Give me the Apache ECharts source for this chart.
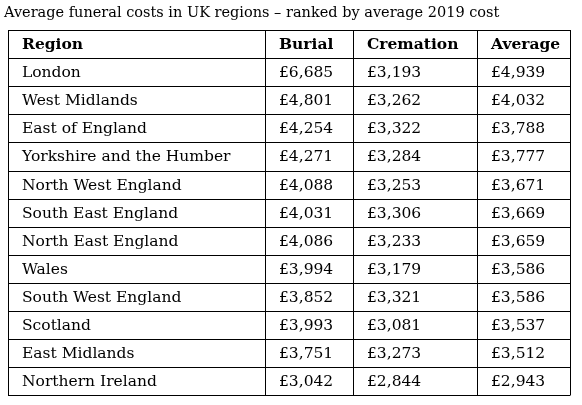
<!DOCTYPE html>
<html>
<head>
<meta charset="utf-8">
<script src="https://cdn.jsdelivr.net/npm/echarts@6/dist/echarts.min.js"></script>
<style>html,body{margin:0;padding:0;background:#fff}#main{width:582px;height:405px}</style>
</head>
<body>
<div id="main"></div>
<script>
var title = 'Average funeral costs in UK regions \u2013 ranked by average 2019 cost';
var headers = ['Region', 'Burial', 'Cremation', 'Average'];
var regions = ['London', 'West Midlands', 'East of England', 'Yorkshire and the Humber', 'North West England',
	'South East England', 'North East England', 'Wales', 'South West England', 'Scotland', 'East Midlands', 'Northern Ireland'];
var burial = [6685, 4801, 4254, 4271, 4088, 4031, 4086, 3994, 3852, 3993, 3751, 3042];
var cremation = [3193, 3262, 3322, 3284, 3253, 3306, 3233, 3179, 3321, 3081, 3273, 2844];
var average = [4939, 4032, 3788, 3777, 3671, 3669, 3659, 3586, 3586, 3537, 3512, 2943];

var colX = [8, 265, 353, 477, 570];
var top0 = 30, rowH = 28.1;
var font = '"DejaVu Serif", "Liberation Serif", serif';

function money(v) {
	return '\u00a3' + v.toLocaleString('en-GB');
}

var myChart = echarts.init(document.getElementById('main'));
var els = [];
//标题
els.push({type: 'text', left: 4, top: 6, style: {text: title, font: '14.5px ' + font, fill: '#000'}});
var rows = [headers];
for (var i = 0; i < regions.length; i++) {
	rows.push([regions[i], money(burial[i]), money(cremation[i]), money(average[i])]);
}
var bottom = top0 + rowH * rows.length;
//表格线
for (var r = 0; r <= rows.length; r++) {
	var y = Math.round(top0 + rowH * r) + 0.5;
	els.push({type: 'line', shape: {x1: colX[0], y1: y, x2: colX[4], y2: y}, style: {stroke: '#000', lineWidth: 1}});
}
for (var c = 0; c < colX.length; c++) {
	els.push({type: 'line', shape: {x1: colX[c] + 0.5, y1: top0, x2: colX[c] + 0.5, y2: Math.round(bottom) + 0.5}, style: {stroke: '#000', lineWidth: 1}});
}
//单元格文字
rows.forEach(function(row, r) {
	row.forEach(function(t, c) {
		els.push({
			type: 'text',
			x: colX[c] + 14,
			y: top0 + rowH * r + rowH / 2 + 1,
			style: {text: t, font: (r === 0 ? 'bold ' : '') + '15.5px ' + font, fill: '#000', verticalAlign: 'middle'}
		});
	});
});
myChart.setOption({graphic: {elements: els}});
</script>
</body>
</html>
